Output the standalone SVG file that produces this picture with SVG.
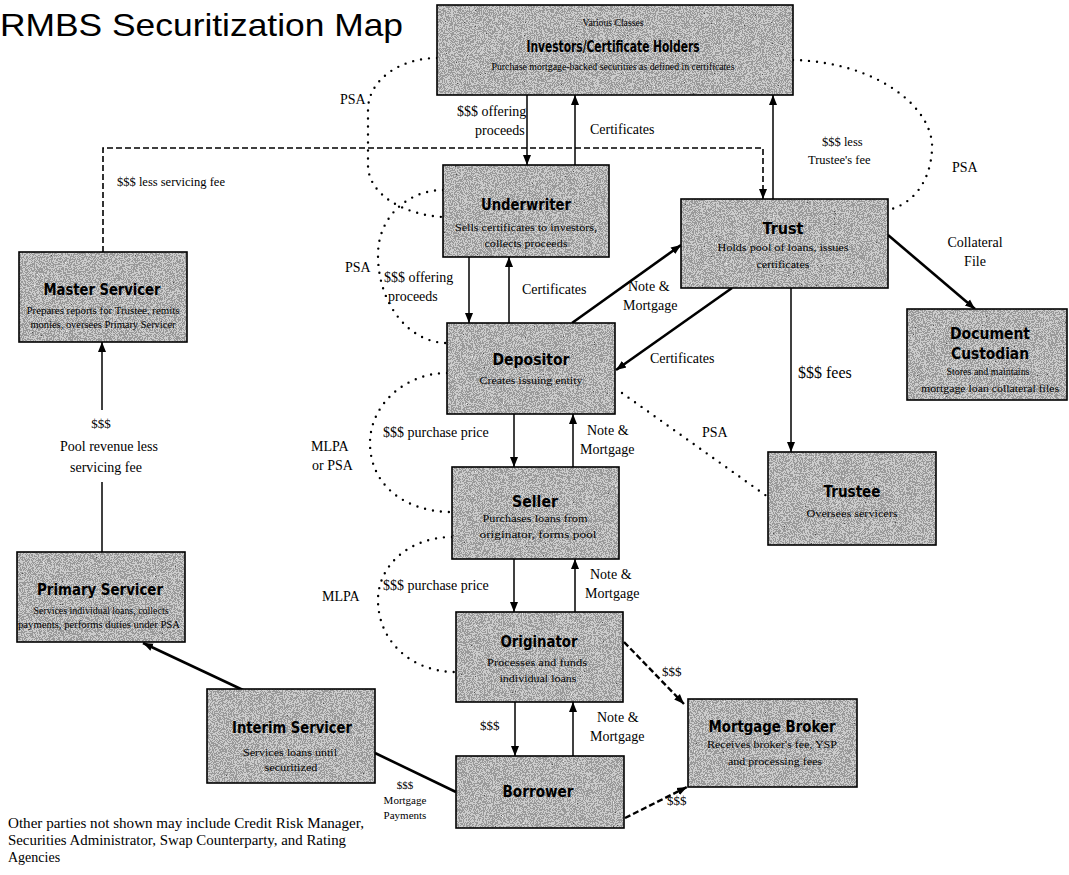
<svg xmlns="http://www.w3.org/2000/svg" width="1069" height="875" viewBox="0 0 1069 875">
<defs>
<filter id="grain" x="0" y="0" width="100%" height="100%" color-interpolation-filters="sRGB">
<feTurbulence type="fractalNoise" baseFrequency="1.1" numOctaves="2" seed="7" result="n"/>
<feColorMatrix in="n" type="saturate" values="0" result="g"/>
<feComponentTransfer in="g" result="d">
<feFuncR type="discrete" tableValues="0.3 0.6 0.8 0.97"/>
<feFuncG type="discrete" tableValues="0.3 0.6 0.8 0.97"/>
<feFuncB type="discrete" tableValues="0.3 0.6 0.8 0.97"/>
<feFuncA type="linear" slope="0" intercept="1"/>
</feComponentTransfer>
<feComposite in="d" in2="SourceAlpha" operator="in"/>
</filter>
<marker id="ah" viewBox="0 0 10 10" refX="10" refY="5" markerWidth="10" markerHeight="10" markerUnits="userSpaceOnUse" orient="auto">
<path d="M0,1 L10,5 L0,9 z" fill="#000"/>
</marker>
</defs>
<style>
.tex{fill:#999;filter:url(#grain)}
.edge{fill:none;stroke:#000;stroke-width:1.6}
.t{font-family:"DejaVu Sans",sans-serif;font-weight:bold;font-size:15px;text-anchor:middle;fill:#000}
.s{font-family:"Liberation Serif",serif;font-size:10.5px;text-anchor:middle;fill:#000}
.l{font-family:"Liberation Serif",serif;font-size:14px;fill:#000}
.sm{font-family:"Liberation Serif",serif;font-size:13px;fill:#000}
.xs{font-family:"Liberation Serif",serif;font-size:11px;fill:#000;text-anchor:middle}
.ft{font-family:"Liberation Serif",serif;font-size:14px;fill:#000}
.ln{fill:none;stroke:#000;stroke-width:1.5}
.thk{fill:none;stroke:#000;stroke-width:2.6}
.dash{fill:none;stroke:#000;stroke-width:1.6;stroke-dasharray:6 3}
.dashb{fill:none;stroke:#000;stroke-width:2.4;stroke-dasharray:6 3}
.dot{fill:none;stroke:#000;stroke-width:2.4;stroke-linecap:round;stroke-dasharray:0 8}
</style>
<rect width="1069" height="875" fill="#fff"/>
<text x="0" y="36" font-family="Liberation Sans, Arial, sans-serif" font-size="32" textLength="403" lengthAdjust="spacingAndGlyphs">RMBS Securitization Map</text>

<g id="connectors">
<path class="dot" d="M437,58 C400,58 368,80 368,110 L368,165 C368,195 405,215 443,217"/>
<path class="dot" d="M443,190 C410,190 378,215 378,255 C378,305 410,343 447,343"/>
<path class="dot" d="M447,373 C405,373 370,405 370,443 C370,485 405,512 452,512"/>
<path class="dot" d="M452,537 C410,537 378,565 378,600 C378,640 410,672 456,672"/>
<path class="dot" d="M793,60 C880,62 935,110 932,150 C930,185 910,205 888,210"/>
<path class="dot" d="M622,393 L768,497"/>
<line class="ln" x1="527" y1="95" x2="527" y2="165" marker-end="url(#ah)"/>
<line class="ln" x1="575" y1="165" x2="575" y2="95" marker-end="url(#ah)"/>
<line class="ln" x1="773" y1="199" x2="773" y2="95" marker-end="url(#ah)"/>
<path class="dash" d="M103,252 L103,148 L763,148 L763,199" marker-end="url(#ah)"/>
<line class="ln" x1="469" y1="257" x2="469" y2="323" marker-end="url(#ah)"/>
<line class="ln" x1="509" y1="323" x2="509" y2="257" marker-end="url(#ah)"/>
<line class="thk" x1="572" y1="323" x2="681" y2="245" marker-end="url(#ah)"/>
<line class="thk" x1="732" y1="288" x2="616" y2="370" marker-end="url(#ah)"/>
<line class="ln" x1="791" y1="288" x2="791" y2="452" marker-end="url(#ah)"/>
<line class="thk" x1="888" y1="235" x2="975" y2="309" marker-end="url(#ah)"/>
<line class="ln" x1="514" y1="414" x2="514" y2="467" marker-end="url(#ah)"/>
<line class="ln" x1="573" y1="467" x2="573" y2="414" marker-end="url(#ah)"/>
<line class="ln" x1="514" y1="559" x2="514" y2="612" marker-end="url(#ah)"/>
<line class="ln" x1="575" y1="612" x2="575" y2="559" marker-end="url(#ah)"/>
<line class="ln" x1="515" y1="702" x2="515" y2="756" marker-end="url(#ah)"/>
<line class="ln" x1="573" y1="756" x2="573" y2="702" marker-end="url(#ah)"/>
<line class="dashb" x1="624" y1="642" x2="684" y2="704" marker-end="url(#ah)"/>
<line class="dashb" x1="625" y1="818" x2="687" y2="787" marker-end="url(#ah)"/>
<line class="thk" x1="456" y1="792" x2="375" y2="753"/>
<line class="thk" x1="243" y1="690" x2="143" y2="643" marker-end="url(#ah)"/>
<line class="ln" x1="102" y1="552" x2="102" y2="482"/>
<line class="ln" x1="102" y1="410" x2="102" y2="342" marker-end="url(#ah)"/>
</g>

<g id="labels">
<text class="l" x="340" y="104">PSA</text>
<text class="l" x="457" y="116">$$$ offering</text>
<text class="l" x="475" y="135">proceeds</text>
<text class="l" x="590" y="134">Certificates</text>
<text class="sm" x="117" y="186" style="font-size:12.5px">$$$ less servicing fee</text>
<text class="sm" x="822" y="146" style="font-size:12.5px">$$$ less</text>
<text class="sm" x="808" y="164" style="font-size:12.5px">Trustee's fee</text>
<text class="l" x="952" y="172">PSA</text>
<text class="l" x="345" y="272">PSA</text>
<text class="l" x="384" y="282">$$$ offering</text>
<text class="l" x="388" y="301">proceeds</text>
<text class="l" x="522" y="294">Certificates</text>
<text class="l" x="628" y="291">Note &amp;</text>
<text class="l" x="623" y="310">Mortgage</text>
<text class="l" x="975" y="247" text-anchor="middle">Collateral</text>
<text class="l" x="975" y="266" text-anchor="middle">File</text>
<text class="l" x="650" y="363">Certificates</text>
<text class="l" x="798" y="378" style="font-size:16px">$$$ fees</text>
<text class="l" x="702" y="437">PSA</text>
<text class="l" x="311" y="451">MLPA</text>
<text class="l" x="312" y="470">or PSA</text>
<text class="l" x="383" y="437">$$$ purchase price</text>
<text class="l" x="587" y="435">Note &amp;</text>
<text class="l" x="580" y="454">Mortgage</text>
<text class="l" x="322" y="601">MLPA</text>
<text class="l" x="383" y="590">$$$ purchase price</text>
<text class="l" x="590" y="579">Note &amp;</text>
<text class="l" x="585" y="598">Mortgage</text>
<text class="sm" x="662" y="676">$$$</text>
<text class="sm" x="480" y="730">$$$</text>
<text class="l" x="597" y="722">Note &amp;</text>
<text class="l" x="590" y="741">Mortgage</text>
<text class="xs" x="405" y="789">$$$</text>
<text class="xs" x="405" y="804">Mortgage</text>
<text class="xs" x="405" y="819">Payments</text>
<text class="sm" x="667" y="805">$$$</text>
<text class="sm" x="101" y="428" text-anchor="middle">$$$</text>
<text class="l" x="109" y="451" text-anchor="middle">Pool revenue less</text>
<text class="l" x="106" y="472" text-anchor="middle">servicing fee</text>
<text class="ft" x="8" y="828" textLength="356" lengthAdjust="spacingAndGlyphs">Other parties not shown may include Credit Risk Manager,</text>
<text class="ft" x="8" y="845" textLength="338" lengthAdjust="spacingAndGlyphs">Securities Administrator, Swap Counterparty, and Rating</text>
<text class="ft" x="8" y="862">Agencies</text>
</g>

<g id="investors">
<rect class="tex" x="437" y="5" width="356" height="90"/>
<rect class="edge" x="437" y="5" width="356" height="90"/>
<text class="s" x="613" y="26" textLength="61" lengthAdjust="spacingAndGlyphs">Various Classes</text>
<text class="t" x="613" y="52" textLength="173" lengthAdjust="spacingAndGlyphs">Investors/Certificate Holders</text>
<text class="s" x="613" y="70" textLength="243" lengthAdjust="spacingAndGlyphs">Purchase mortgage-backed securities as defined in certificates</text>
</g>

<g id="underwriter">
<rect class="tex" x="443" y="165" width="166" height="92"/>
<rect class="edge" x="443" y="165" width="166" height="92"/>
<text class="t" x="526" y="210" textLength="90" lengthAdjust="spacingAndGlyphs">Underwriter</text>
<text class="s" x="526" y="231" textLength="142" lengthAdjust="spacingAndGlyphs">Sells certificates to investors,</text>
<text class="s" x="526" y="247" textLength="83" lengthAdjust="spacingAndGlyphs">collects proceeds</text>
</g>

<g id="trust">
<rect class="tex" x="681" y="199" width="207" height="89"/>
<rect class="edge" x="681" y="199" width="207" height="89"/>
<text class="t" x="783" y="234" textLength="41" lengthAdjust="spacingAndGlyphs">Trust</text>
<text class="s" x="783" y="251" textLength="131" lengthAdjust="spacingAndGlyphs">Holds pool of loans, issues</text>
<text class="s" x="783" y="268" textLength="53" lengthAdjust="spacingAndGlyphs">certificates</text>
</g>

<g id="document-custodian">
<rect class="tex" x="907" y="309" width="160" height="91"/>
<rect class="edge" x="907" y="309" width="160" height="91"/>
<text class="t" x="990" y="339" style="font-size:16px" textLength="80" lengthAdjust="spacingAndGlyphs">Document</text>
<text class="t" x="990" y="359" style="font-size:16px" textLength="78" lengthAdjust="spacingAndGlyphs">Custodian</text>
<text class="s" x="988" y="375" textLength="83" lengthAdjust="spacingAndGlyphs">Stores and maintains</text>
<text class="s" x="990" y="392" textLength="138" lengthAdjust="spacingAndGlyphs">mortgage loan collateral files</text>
</g>

<g id="depositor">
<rect class="tex" x="447" y="323" width="168" height="91"/>
<rect class="edge" x="447" y="323" width="168" height="91"/>
<text class="t" x="531" y="365" textLength="77" lengthAdjust="spacingAndGlyphs">Depositor</text>
<text class="s" x="531" y="384" textLength="103" lengthAdjust="spacingAndGlyphs">Creates issuing entity</text>
</g>

<g id="trustee">
<rect class="tex" x="768" y="452" width="168" height="93"/>
<rect class="edge" x="768" y="452" width="168" height="93"/>
<text class="t" x="852" y="497" textLength="57" lengthAdjust="spacingAndGlyphs">Trustee</text>
<text class="s" x="852" y="517" textLength="91" lengthAdjust="spacingAndGlyphs">Oversees servicers</text>
</g>

<g id="seller">
<rect class="tex" x="452" y="467" width="167" height="92"/>
<rect class="edge" x="452" y="467" width="167" height="92"/>
<text class="t" x="535" y="507" textLength="46" lengthAdjust="spacingAndGlyphs">Seller</text>
<text class="s" x="535" y="522" textLength="105" lengthAdjust="spacingAndGlyphs">Purchases loans from</text>
<text class="s" x="538" y="538" textLength="117" lengthAdjust="spacingAndGlyphs">originator, forms pool</text>
</g>

<g id="originator">
<rect class="tex" x="456" y="612" width="167" height="90"/>
<rect class="edge" x="456" y="612" width="167" height="90"/>
<text class="t" x="539" y="647" textLength="77" lengthAdjust="spacingAndGlyphs">Originator</text>
<text class="s" x="537" y="666" textLength="100" lengthAdjust="spacingAndGlyphs">Processes and funds</text>
<text class="s" x="538" y="682" textLength="77" lengthAdjust="spacingAndGlyphs">individual loans</text>
</g>

<g id="borrower">
<rect class="tex" x="456" y="756" width="168" height="72"/>
<rect class="edge" x="456" y="756" width="168" height="72"/>
<text class="t" x="538" y="797" textLength="71" lengthAdjust="spacingAndGlyphs">Borrower</text>
</g>

<g id="mortgage-broker">
<rect class="tex" x="688" y="699" width="169" height="88"/>
<rect class="edge" x="688" y="699" width="169" height="88"/>
<text class="t" x="772" y="732" textLength="127" lengthAdjust="spacingAndGlyphs">Mortgage Broker</text>
<text class="s" x="772" y="748" textLength="130" lengthAdjust="spacingAndGlyphs">Receives broker's fee, YSP</text>
<text class="s" x="775" y="765" textLength="94" lengthAdjust="spacingAndGlyphs">and processing fees</text>
</g>

<g id="interim-servicer">
<rect class="tex" x="207" y="689" width="168" height="94"/>
<rect class="edge" x="207" y="689" width="168" height="94"/>
<text class="t" x="292" y="733" textLength="120" lengthAdjust="spacingAndGlyphs">Interim Servicer</text>
<text class="s" x="290" y="756" textLength="94" lengthAdjust="spacingAndGlyphs">Services loans until</text>
<text class="s" x="291" y="771" textLength="53" lengthAdjust="spacingAndGlyphs">securitized</text>
</g>

<g id="master-servicer">
<rect class="tex" x="19" y="252" width="168" height="90"/>
<rect class="edge" x="19" y="252" width="168" height="90"/>
<text class="t" x="102" y="295" textLength="117" lengthAdjust="spacingAndGlyphs">Master Servicer</text>
<text class="s" x="103" y="314" textLength="153" lengthAdjust="spacingAndGlyphs">Prepares reports for Trustee, remits</text>
<text class="s" x="103" y="328" textLength="145" lengthAdjust="spacingAndGlyphs">monies, oversees Primary Servicer</text>
</g>

<g id="primary-servicer">
<rect class="tex" x="17" y="552" width="168" height="90"/>
<rect class="edge" x="17" y="552" width="168" height="90"/>
<text class="t" x="100" y="595" textLength="126" lengthAdjust="spacingAndGlyphs">Primary Servicer</text>
<text class="s" x="101" y="614" textLength="135" lengthAdjust="spacingAndGlyphs">Services individual loans, collects</text>
<text class="s" x="99" y="628" textLength="162" lengthAdjust="spacingAndGlyphs">payments, performs duties under PSA</text>
</g>
</svg>
